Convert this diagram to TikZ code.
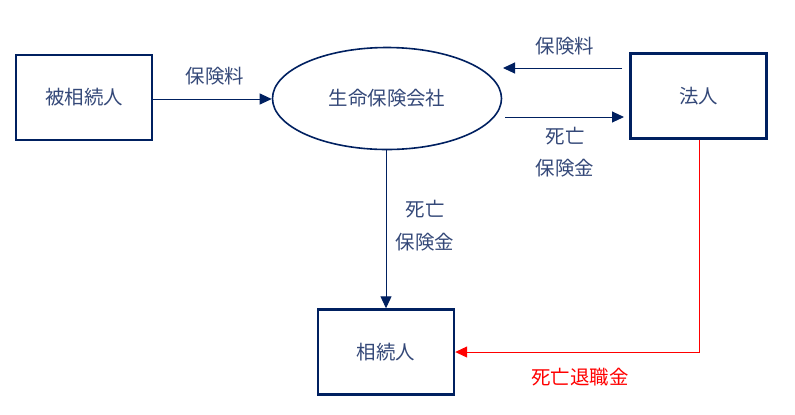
\documentclass[tikz,border=0pt]{standalone}
\usepackage{fontspec}
\setmainfont{Noto Sans CJK JP}
\usetikzlibrary{arrows.meta,shapes.geometric}
\definecolor{navy}{RGB}{0,32,96}
\definecolor{txt}{RGB}{52,72,120}
\definecolor{red0}{RGB}{255,0,0}
\begin{document}
\begin{tikzpicture}[x=1bp,y=-1bp,
  box/.style={draw=navy,line width=2.4bp,minimum width=136bp,minimum height=85bp,inner sep=0pt,text=txt,font=\fontsize{19.5}{22}\selectfont},
  oval/.style={ellipse,draw=navy,line width=1.6bp,minimum width=229bp,minimum height=102bp,inner sep=0pt,text=txt,font=\fontsize{19.5}{22}\selectfont},
  conn/.style={draw=navy,line width=1bp,-{Triangle[length=12bp,width=11bp]}},
  redconn/.style={draw=red0,line width=1bp,-{Triangle[length=12bp,width=11bp]}},
  lbl/.style={text=txt,font=\fontsize{19.5}{22}\selectfont,inner sep=0pt},
  rlbl/.style={text=red0,font=\fontsize{19.5}{22}\selectfont,inner sep=0pt}]
\useasboundingbox (0,0) rectangle (795,414);
\node[box] (hi) at (84,97.5) {被相続人};
\node[oval] (co) at (387,98.5) {生命保険会社};
\node[box] (ho) at (698.5,96) {法人};
\node[box] (so) at (386,352) {相続人};
\coordinate (a1) at (153,99);
\draw[conn] (hi.east |- a1) -- (co.west |- a1);
\node[lbl] (l1) at (215,76) {保険料};
\coordinate (b1) at (622,68);
\coordinate (b2) at (503,68);
\draw[conn] (b1) -- (b2);
\node[lbl] (l2) at (565,46) {保険料};
\coordinate (c1) at (505,117);
\coordinate (c2) at (624,117);
\draw[conn] (c1) -- (c2);
\node[lbl] (l3) at (565,136) {死亡};
\node[lbl] (l4) at (565,168) {保険金};
\draw[conn] (co.south -| so.north) -- (so.north);
\node[lbl] (l5) at (425,209) {死亡};
\node[lbl] (l6) at (425,242) {保険金};
\coordinate (r1) at (699,352);
\draw[redconn] (ho.south -| r1) -- (r1) -- (so.east);
\node[rlbl] (l7) at (580,377) {死亡退職金};
\end{tikzpicture}
\end{document}
